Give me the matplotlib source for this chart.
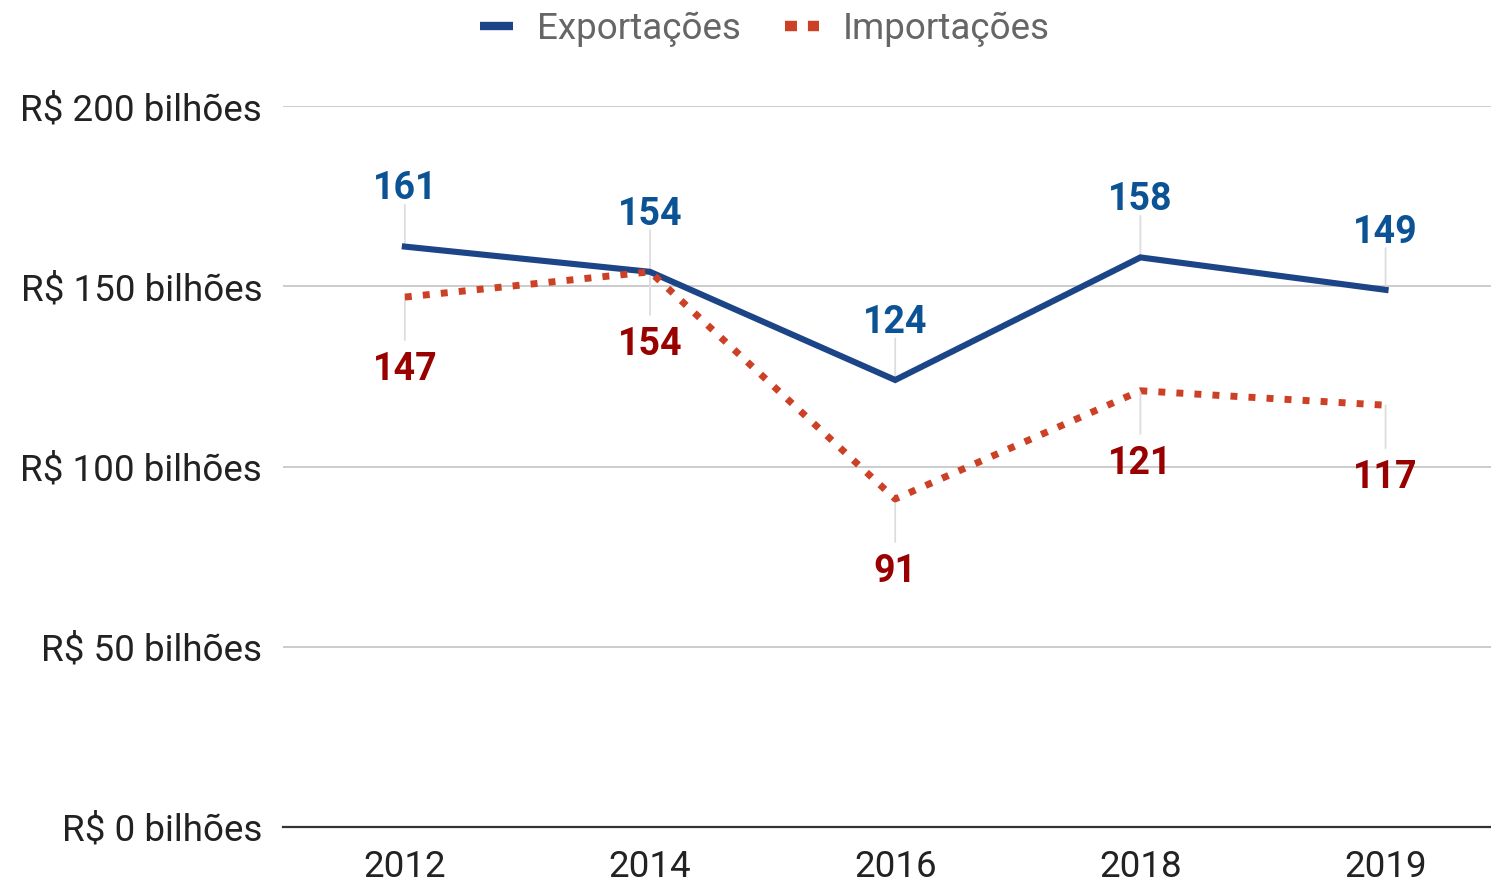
import matplotlib.pyplot as plt
from matplotlib.lines import Line2D

plt.rcParams['font.family'] = ['Roboto', 'DejaVu Sans']

anos = ['2012', '2014', '2016', '2018', '2019']
exportacoes = [161, 154, 124, 158, 149]
importacoes = [147, 154, 91, 121, 117]
yticks = [0, 50, 100, 150, 200]

cor_exp = '#1c4587'
cor_imp = '#cc4125'
cor_lab_exp = '#0b5394'
cor_lab_imp = '#990000'

fig = plt.figure(figsize=(14.91, 8.84), dpi=100)
ax = fig.add_axes([283 / 1491, 1 - 827 / 884, 1 - 283 / 1491, (827 - 106) / 884])

x = range(len(anos))
ax.plot(x, exportacoes, color=cor_exp, lw=4.4, solid_joinstyle='miter', zorder=3)
ax.plot(x, importacoes, color=cor_imp, lw=5, linestyle=(0, (1, 1.6)),
        dash_capstyle='butt', zorder=3)

# rótulos com linhas-guia
for i, v in enumerate(exportacoes):
    ax.annotate('', xy=(i, v), xytext=(0, 30), textcoords='offset points',
                arrowprops=dict(arrowstyle='-', color='#dddddd', lw=1.3,
                                shrinkA=0, shrinkB=0), zorder=1)
    ax.annotate(str(v), xy=(i, v), xytext=(0, 34), textcoords='offset points',
                ha='center', va='baseline', fontsize=27, fontweight='bold',
                color=cor_lab_exp, annotation_clip=False)
for i, v in enumerate(importacoes):
    ax.annotate('', xy=(i, v), xytext=(0, -31), textcoords='offset points',
                arrowprops=dict(arrowstyle='-', color='#dddddd', lw=1.3,
                                shrinkA=0, shrinkB=0), zorder=1)
    ax.annotate(str(v), xy=(i, v), xytext=(0, -39), textcoords='offset points',
                ha='center', va='top', fontsize=27, fontweight='bold',
                color=cor_lab_imp, annotation_clip=False)

ax.set_xlim(-0.497, 4.43)
ax.set_ylim(0, 200)
ax.set_xticks(list(x))
ax.set_xticklabels(anos)
ax.set_yticks(yticks)
ax.set_yticklabels(['R$ %d bilhões' % v for v in yticks])
ax.tick_params(length=0, labelsize=26.5, labelcolor='#222222')
ax.tick_params(axis='y', pad=15)
ax.tick_params(axis='x', pad=16)
ax.grid(axis='y', color='#cccccc', lw=1.4)
ax.set_axisbelow(True)
for s in ['top', 'right', 'left']:
    ax.spines[s].set_visible(False)
ax.spines['bottom'].set_color('#333333')
ax.spines['bottom'].set_linewidth(1.6)
ax.spines['bottom'].set_zorder(2)

handles = [Line2D([], [], color=cor_exp, lw=6, solid_capstyle='butt'),
           Line2D([], [], color=cor_imp, lw=7.5, linestyle=(0, (1.15, 1.05)),
                  dash_capstyle='butt')]
fig.legend(handles, ['Exportações', 'Importações'], loc='upper center',
           bbox_to_anchor=(0.513, 1.025), ncol=2, frameon=False, fontsize=26.5,
           labelcolor='#666666', handlelength=0.9, columnspacing=1.2,
           handletextpad=0.65)

fig.savefig('out.png', dpi=100)
